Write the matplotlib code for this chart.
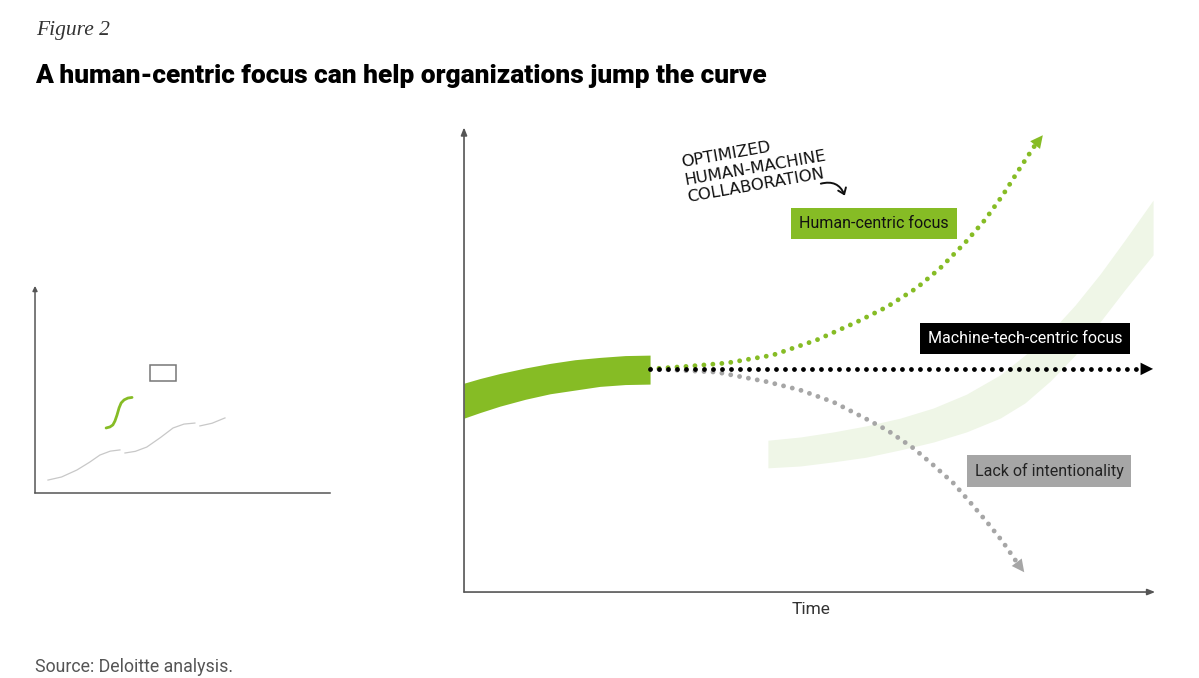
import matplotlib.pyplot as plt
from matplotlib.patches import Rectangle, FancyArrowPatch

GREEN = '#86bc25'
PALE = '#eff6e7'
GRAY = '#a6a6a6'
AXIS = '#555555'
SANS = ['Roboto', 'DejaVu Sans']

# main chart (time 0-100, value 0-100)
band_x = [0, 2.3, 5.2, 8.9, 12.5, 16.1, 19.7, 23.4, 27.0]
band_top = [45.4, 46.4, 47.5, 48.7, 49.7, 50.5, 51.0, 51.4, 51.5]
band_bottom = [37.8, 39.0, 40.4, 41.9, 43.1, 43.9, 44.7, 45.1, 45.2]

human_x = [27.0, 32.8, 38.2, 44.8, 51.2, 57.0, 61.4, 65.7, 69.1, 72.7, 75.6, 78.2, 80.7, 82.9]
human_y = [48.5, 49.1, 49.8, 51.5, 54.8, 58.7, 62.0, 66.1, 70.4, 75.9, 80.9, 86.3, 92.2, 97.2]
human_tip = (84.0, 99.3)

machine_x = [27.0, 98.0]
machine_y = [48.5, 48.5]
machine_tip = (100.0, 48.5)

lack_x = [27.0, 36.7, 44.0, 48.8, 53.6, 57.9, 61.4, 65.2, 68.1, 71.0, 73.4, 75.9, 78.2, 80.3]
lack_y = [48.5, 47.8, 45.7, 43.9, 41.3, 38.0, 35.2, 31.3, 27.6, 23.7, 19.6, 15.2, 10.9, 6.3]
lack_tip = (81.3, 4.3)

jump_x = [44.1, 48.8, 53.6, 58.3, 63.3, 68.1, 72.9, 77.8, 81.4, 85.1, 88.7, 92.3, 95.9, 100.0]
jump_top = [33.0, 33.7, 34.8, 36.1, 37.8, 40.0, 43.0, 47.2, 51.5, 56.5, 62.4, 69.1, 76.5, 85.2]
jump_bottom = [27.0, 27.4, 28.3, 29.3, 30.9, 32.6, 34.8, 37.8, 41.1, 45.9, 51.5, 58.7, 65.7, 73.3]

labels = ['Human-centric focus', 'Machine-tech-centric focus', 'Lack of intentionality']
label_pos = [(59.5, 80.2), (81.4, 55.2), (84.9, 26.3)]
label_bg = [GREEN, '#000000', GRAY]
label_fg = ['#111111', '#ffffff', '#222222']

# thumbnail chart
thumb_s_x = [24.1, 25.4, 26.4, 27.1, 27.8, 28.5, 29.2, 30.2, 31.5, 32.9]
thumb_s_y = [31.7, 32.2, 33.2, 35.1, 38.0, 41.5, 43.9, 45.4, 46.3, 46.6]
thumb_waves = [
    ([4.4, 9.0, 14.2, 18.5, 22.0, 25.5, 28.8], [6.3, 7.8, 11.2, 15.0, 18.5, 20.4, 21.0]),
    ([30.5, 34.0, 37.9, 42.5, 46.8, 50.5, 54.2], [19.5, 20.3, 22.4, 27.0, 31.7, 33.6, 34.1]),
    ([55.9, 60.0, 64.4], [32.7, 34.0, 36.6]),
]
thumb_box = (39.0, 54.6, 8.8, 7.8)

fig = plt.figure(figsize=(11.99, 6.78), dpi=100)

fig.text(0.030, 0.955, 'Figure 2', family='Liberation Serif', style='italic',
         fontsize=15.5, color='#333333', va='center')
fig.text(0.029, 0.888, 'A human-centric focus can help organizations jump the curve',
         family=SANS, weight='black', fontsize=18.9, color='#000000', va='center')
fig.text(0.029, 0.016, 'Source: Deloitte analysis.', family=SANS,
         fontsize=12.8, color='#555555', va='center')

# ---- main chart
ax = fig.add_axes([0.387, 0.1268, 0.5747, 0.6785])
ax.set_xlim(0, 100)
ax.set_ylim(0, 100)
ax.axis('off')

ax.fill_between(jump_x, jump_bottom, jump_top, color=PALE, lw=0, zorder=1)
ax.fill_between(band_x, band_bottom, band_top, color=GREEN, lw=0, zorder=3)

dot = dict(lw=3.5, dashes=(0.001, 1.85), dash_capstyle='round')
for xs, ys, tip, col, z in [(lack_x, lack_y, lack_tip, GRAY, 4),
                            (human_x, human_y, human_tip, GREEN, 5),
                            (machine_x, machine_y, machine_tip, '#000000', 6)]:
    ax.plot(xs, ys, color=col, zorder=z, **dot)
    ax.annotate('', xy=tip, xytext=(xs[-1], ys[-1]),
                arrowprops=dict(arrowstyle='-|>,head_length=0.6,head_width=0.3',
                                mutation_scale=15, color=col, lw=0,
                                shrinkA=0, shrinkB=0), zorder=z)

for text, (lx, ly), bg, fg in zip(labels, label_pos, label_bg, label_fg):
    ax.text(lx, ly, text, ha='center', va='center', family=SANS, fontsize=11.5,
            color=fg, zorder=8,
            bbox=dict(boxstyle='square,pad=0.5', fc=bg, ec='none'))

ax.text(31.3, 95.0, 'OPTIMIZED\nHUMAN-MACHINE\nCOLLABORATION', rotation=10,
        rotation_mode='anchor', ha='left', va='top', family='DejaVu Sans',
        fontsize=11.8, linespacing=1.25, color='#111111', zorder=8)
ax.add_patch(FancyArrowPatch((51.4, 88.6), (55.4, 85.6),
                             connectionstyle='arc3,rad=-0.5',
                             arrowstyle='->,head_length=4,head_width=3',
                             color='#111111', lw=1.4, zorder=8))

axis_arrow = dict(arrowstyle='-|>,head_length=0.5,head_width=0.2',
                  mutation_scale=9, color=AXIS, lw=1.2, shrinkA=0, shrinkB=0)
ax.annotate('', xy=(0, 101), xytext=(0, 0), arrowprops=axis_arrow, annotation_clip=False)
ax.annotate('', xy=(100.3, 0), xytext=(0, 0), arrowprops=axis_arrow, annotation_clip=False)
ax.text(50.3, -3.8, 'Time', ha='center', va='center', family=SANS,
        fontsize=12.5, color='#333333')

# ---- thumbnail chart
tx = fig.add_axes([0.0292, 0.2729, 0.246, 0.3024])
tx.set_xlim(0, 100)
tx.set_ylim(0, 100)
tx.axis('off')
for wx, wy in thumb_waves:
    tx.plot(wx, wy, color='#c8c8c8', lw=0.9)
tx.plot(thumb_s_x, thumb_s_y, color=GREEN, lw=2, solid_capstyle='round')
tx.add_patch(Rectangle(thumb_box[:2], thumb_box[2], thumb_box[3], fill=False,
                       ec='#777777', lw=1.1))
small_arrow = dict(arrowstyle='-|>,head_length=0.4,head_width=0.2',
                   mutation_scale=7, color=AXIS, lw=1.1, shrinkA=0, shrinkB=0)
tx.annotate('', xy=(0, 101), xytext=(0, 0), arrowprops=small_arrow, annotation_clip=False)
tx.plot([0, 100], [0, 0], color=AXIS, lw=1.1, clip_on=False)

fig.savefig('out.png', dpi=100)
